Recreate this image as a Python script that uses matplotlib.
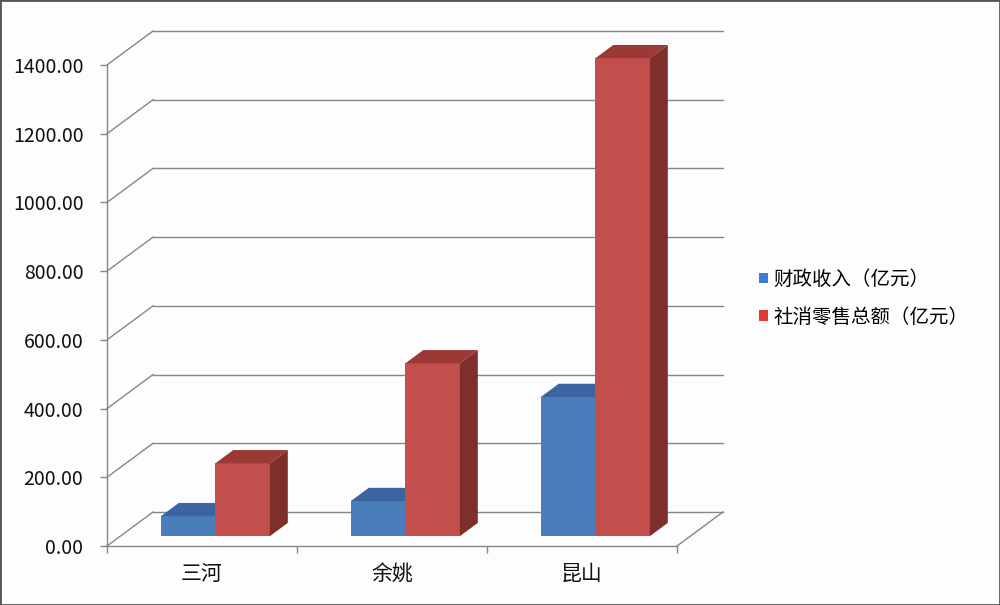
import matplotlib
matplotlib.use("Agg")
import matplotlib.pyplot as plt
from matplotlib.patches import Polygon, Patch, Rectangle

plt.rcParams['font.family'] = ['Noto Sans CJK SC', 'DejaVu Sans']

# ── data ──
categories = ["三河", "余姚", "昆山"]
series_names = ["财政收入（亿元）", "社消零售总额（亿元）"]
fiscal = [58, 102, 405]
retail = [212, 503, 1391]
yticks = [0, 200, 400, 600, 800, 1000, 1200, 1400]

# ── fake-3D geometry (x in category slots, y in value units) ──
PX_PER_SLOT = 190.0
PX_PER_UNIT = 481.0 / 1400
DX = 46 / PX_PER_SLOT          # depth offset of back wall
DY = 34 / PX_PER_UNIT
F0, F1 = 0.29, 0.68            # bar front / back depth fraction
BAR_W = 0.287
GAP = (1 - 2 * BAR_W) / 2

front_cols = ["#4A7EBB", "#C24F4B"]
top_cols = ["#3B64A0", "#9B3A35"]
side_cols = ["#35598e", "#7E2F2B"]
grid_col = "#878787"

fig = plt.figure(figsize=(10, 6.05), dpi=100)
fig.patch.set_facecolor("#FDFCFE")
ax = fig.add_axes([0, 0, 1, 1])
ax.set_facecolor("none")
ax.set_xlim(-107 / PX_PER_SLOT, (1000 - 107) / PX_PER_SLOT)
ax.set_ylim(-(605 - 546) / PX_PER_UNIT, 546 / PX_PER_UNIT)

# walls / gridlines
n = len(categories)
for v in yticks:
    ax.plot([0, DX], [v, v + DY], color=grid_col, lw=1.0, zorder=1)
    ax.plot([DX, n + DX], [v + DY, v + DY], color=grid_col, lw=1.0, zorder=1)
ax.plot([n, n + DX], [0, DY], color=grid_col, lw=1.0, zorder=1)

# bars
ddx = (F1 - F0) * DX
ddy = (F1 - F0) * DY
for i in range(n):
    for j, vals in enumerate([fiscal, retail]):
        x = i + F0 * DX + GAP + j * BAR_W
        b = F0 * DY
        v = vals[i]
        ax.bar(x, v, bottom=b, width=BAR_W, align='edge',
               color=front_cols[j], edgecolor='none', zorder=3)
        top = Polygon([(x, b + v), (x + BAR_W, b + v),
                       (x + BAR_W + ddx, b + v + ddy), (x + ddx, b + v + ddy)],
                      closed=True, facecolor=top_cols[j], edgecolor='none', zorder=3)
        side = Polygon([(x + BAR_W, b), (x + BAR_W, b + v),
                        (x + BAR_W + ddx, b + v + ddy), (x + BAR_W + ddx, b + ddy)],
                       closed=True, facecolor=side_cols[j], edgecolor='none', zorder=3)
        ax.add_patch(top)
        ax.add_patch(side)

# axes
for s in ["top", "right"]:
    ax.spines[s].set_visible(False)
ax.spines['left'].set_position(('data', 0))
ax.spines['left'].set_bounds(0, 1400)
ax.spines['bottom'].set_position(('data', 0))
ax.spines['bottom'].set_bounds(0, n)
for s in ["left", "bottom"]:
    ax.spines[s].set_color(grid_col)
    ax.spines[s].set_linewidth(1.0)

ax.set_yticks(yticks)
ax.set_yticklabels([f"{t:.2f}" for t in yticks])
ax.tick_params(axis='y', direction='out', length=5, width=1.0, color=grid_col,
               pad=12, labelsize=14, labelcolor='#111111')
ax.set_xticks(range(n + 1))
ax.set_xticklabels([""] * (n + 1))
ax.set_xticks([i + 0.5 for i in range(n)], minor=True)
ax.set_xticklabels(categories, minor=True)
ax.tick_params(axis='x', which='major', direction='out', length=5, width=1.0, color=grid_col)
ax.tick_params(axis='x', which='minor', length=0, pad=12, labelsize=15, labelcolor='#111111')

# legend
handles = [Patch(facecolor=c, edgecolor='none') for c in ["#3B7DD8", "#E03A35"]]
ax.legend(handles, series_names, loc='upper left', bbox_to_anchor=(0.759, 1 - 269 / 605),
          bbox_transform=fig.transFigure, frameon=False, fontsize=14,
          handlelength=0.45, handleheight=0.45, handletextpad=0.3, labelspacing=0.85,
          borderpad=0, borderaxespad=0)

fig.patches.append(Rectangle((0, 0), 1, 1, transform=fig.transFigure, fill=False,
                             edgecolor="#555555", lw=2))

fig.savefig("out.png", dpi=100, facecolor=fig.get_facecolor())
